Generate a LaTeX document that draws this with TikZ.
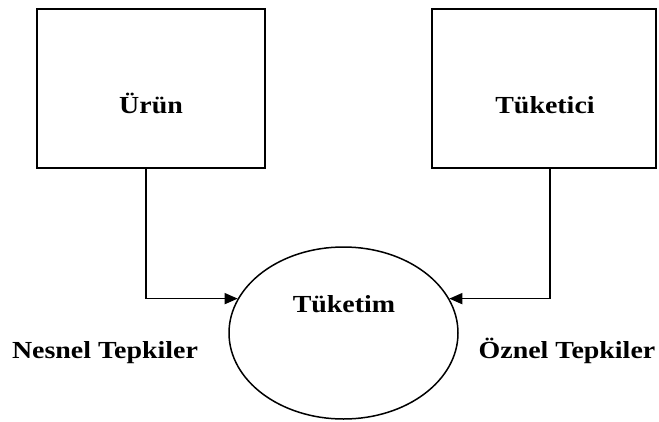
\documentclass[tikz,border=0pt]{standalone}
\usepackage{fontspec}
\setmainfont{Liberation Serif}
\newfontfamily\lblfont[FakeStretch=1.14]{Liberation Serif}
\usetikzlibrary{shapes.geometric,arrows.meta}
\begin{document}
\begin{tikzpicture}[x=1pt,y=-1pt,
  line width=1.5pt,
  box/.style={draw,rectangle,inner sep=0pt},
  oval/.style={draw,ellipse,inner sep=0pt,minimum width=229pt,minimum height=172pt},
  lbl/.style={font=\lblfont\fontsize{24.5}{28}\selectfont\bfseries,inner sep=0pt,anchor=base},
  conn/.style={-{Triangle[length=13pt,width=11pt]}}]
  \useasboundingbox (0,0) rectangle (659,421);
  % product and consumer boxes
  \node[box,minimum width=228pt,minimum height=159pt] (urun) at (151,88.5) {};
  \node[box,minimum width=224pt,minimum height=159pt] (tuketici) at (544,88.5) {};
  \node[lbl] (turun) at (151,113) {Ürün};
  \node[lbl] (ttuketici) at (545,113) {Tüketici};
  % consumption
  \node[oval] (tuketim) at (343.5,333) {};
  \node[lbl] (ttuketim) at (344,312) {Tüketim};
  % side labels
  \node[lbl] (nesnel) at (105,358) {Nesnel Tepkiler};
  \node[lbl,anchor=base east] (oznel) at (656,358) {Öznel Tepkiler};
  % connectors
  \coordinate (c1) at (146,0);
  \coordinate (c2) at (550,0);
  \draw[conn] (urun.south -| c1) |- (tuketim.162);
  \draw[conn] (tuketici.south -| c2) |- (tuketim.18);
\end{tikzpicture}
\end{document}
